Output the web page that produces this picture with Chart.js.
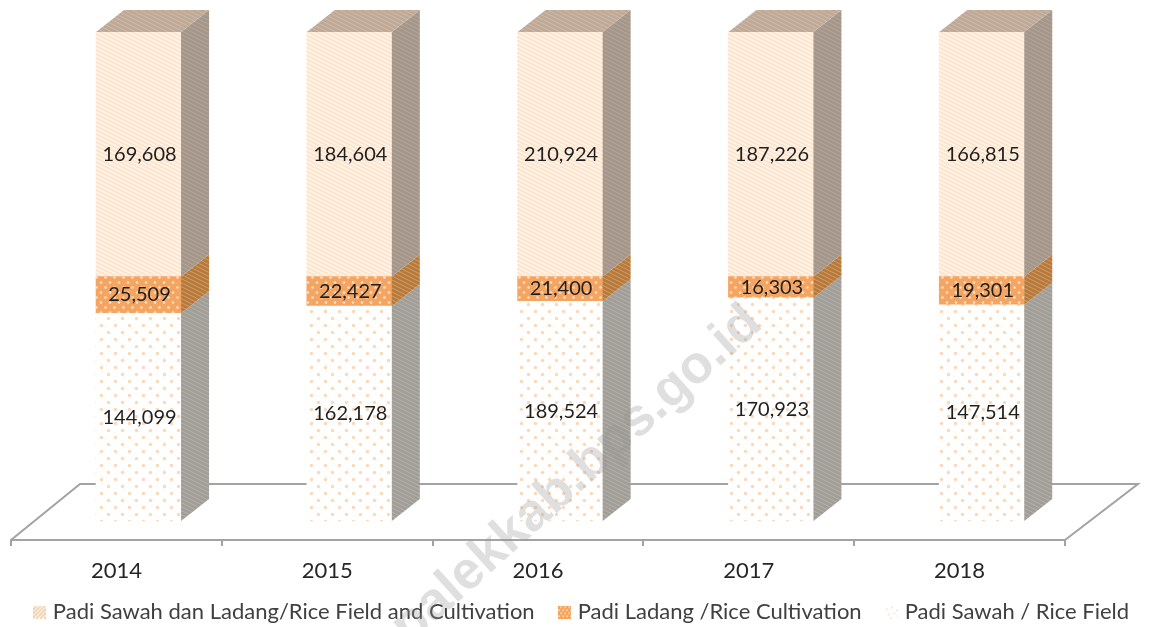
<!DOCTYPE html>
<html><head><meta charset="utf-8">
<style>html,body{margin:0;padding:0;background:#fff}canvas{display:block}</style>
<script src="https://cdn.jsdelivr.net/npm/chart.js@4"></script>
</head><body><canvas id="c" width="1149" height="627"></canvas>
<script>
const years = ['2014','2015','2016','2017','2018'];
const padiSawah = [144099,162178,189524,170923,147514];
const padiLadang = [25509,22427,21400,16303,19301];
const padiSawahLadang = [169608,184604,210924,187226,166815];
const seriesNames = ['Padi Sawah / Rice Field','Padi Ladang /Rice Cultivation','Padi Sawah dan Ladang/Rice Field and Cultivation'];
const rawSeries = [padiSawah,padiLadang,padiSawahLadang];
const totals = years.map((_,i)=>rawSeries.reduce((s,a)=>s+a[i],0));
const FONT='Lato, Carlito, sans-serif';
const DEPTH_X=28, DEPTH_Y=22;

function tile(w,h,fn){const c=document.createElement('canvas');c.width=w;c.height=h;fn(c.getContext('2d'),w,h);return c;}
function stripeTile(bg,fg,lw){return tile(8,4,(g,w,h)=>{g.fillStyle=bg;g.fillRect(0,0,w,h);g.strokeStyle=fg;g.lineWidth=lw;
  for(const dy of [-4,0,4]){g.beginPath();g.moveTo(-8,dy-4);g.lineTo(16,dy+8);g.stroke();}});}
function dotTile(w,h,bg,fg,r,pts){return tile(w,h,(g)=>{g.fillStyle=bg;g.fillRect(0,0,w,h);g.fillStyle=fg;
  pts.forEach(p=>{g.beginPath();g.arc(p[0],p[1],r,0,7);g.fill();});});}
const ctx0=document.getElementById('c').getContext('2d');
const P=t=>ctx0.createPattern(t,'repeat');
const fronts=[
  P(dotTile(14,14,'#ffffff','#fbd8b8',1.7,[[3.5,3.5],[10.5,10.5]])),
  P(dotTile(9,10,'#f5a562','#fde0c2',1.3,[[2,2.5],[6.5,7.5]])),
  P(stripeTile('#fde4cb','#fff8f0',1.3))
];
const sides=[
  P(stripeTile('#a09c96','#b4b1ac',1.1)),
  P(stripeTile('#b6793c','#cf9a62',1.1)),
  P(stripeTile('#a4968a','#b3a698',1.1))
];
const topFace=P(stripeTile('#bfa996','#cdbbab',1.1));

function legendIcon(kind){return tile(13,13,(g,w,h)=>{
  if(kind===2){g.fillStyle='#fff';g.fillRect(0,0,w,h);g.strokeStyle='#f0c9a2';g.lineWidth=1.6;
    for(let i=-13;i<26;i+=4){g.beginPath();g.moveTo(i,13);g.lineTo(i+13,0);g.stroke();}}
  else if(kind===1){g.fillStyle='#f4a25c';g.fillRect(0,0,w,h);g.fillStyle='#fde0c2';
    for(let y=1,r=0;y<13;y+=3,r++)for(let x=(r%2?0:2);x<13;x+=4)g.fillRect(x,y,2,1.4);}
  else{g.fillStyle='#f6dcc6';[[1,3],[6,1],[11,4],[3,8],[8,7],[12,10],[5,12]].forEach(p=>g.fillRect(p[0],p[1],1.6,1.6));}
});}
const icons=[legendIcon(0),legendIcon(1),legendIcon(2)];

const floorPlugin={id:'floor',beforeDatasetsDraw(ch){
  const x=ch.scales.x,g=ch.ctx,b=x.top;
  const backY=b-56;
  g.save();g.strokeStyle='#a3a3a3';g.lineWidth=2;g.beginPath();
  g.moveTo(x.left,b);g.lineTo(x.left+69,backY);g.lineTo(x.right+73,backY);g.lineTo(x.right,b);g.stroke();g.restore();
}};
const facePlugin={id:'faces',afterDatasetsDraw(ch){
  const g=ch.ctx;
  g.save();
  ch.data.datasets.forEach((ds,di)=>{
    ch.getDatasetMeta(di).data.forEach(el=>{
      const p=el.getProps(['x','y','base','width'],true);
      const r=p.x+p.width/2,l=p.x-p.width/2;
      g.fillStyle=sides[di];g.beginPath();
      g.moveTo(r,p.y);g.lineTo(r+DEPTH_X,p.y-DEPTH_Y);g.lineTo(r+DEPTH_X,p.base-DEPTH_Y);g.lineTo(r,p.base);g.closePath();g.fill();
      if(di===ch.data.datasets.length-1){g.fillStyle=topFace;g.beginPath();
        g.moveTo(l,p.y);g.lineTo(l+DEPTH_X,p.y-DEPTH_Y);g.lineTo(r+DEPTH_X,p.y-DEPTH_Y);g.lineTo(r,p.y);g.closePath();g.fill();}
    });
  });
  g.font='20px '+FONT;g.fillStyle='#1f1f1f';g.textAlign='center';g.textBaseline='middle';
  ch.data.datasets.forEach((ds,di)=>{
    ch.getDatasetMeta(di).data.forEach((el,i)=>{
      const p=el.getProps(['x','y','base'],true);
      g.fillText(rawSeries[di][i].toLocaleString('en-US'),p.x+1,(p.y+p.base)/2);
    });
  });
  g.restore();
}};
const watermarkPlugin={id:'watermark',afterDraw(ch){
  const g=ch.ctx;g.save();g.translate(752,313);g.rotate(-42*Math.PI/180);
  g.font='bold 53px "Liberation Sans", Arial, sans-serif';g.fillStyle='rgba(150,150,150,0.3)';
  g.textAlign='right';g.textBaseline='alphabetic';g.fillText('palekkab.bps.go.id',0,18);g.restore();
}};
const legendShift={id:'legendShift',afterLayout(ch){
  const l=ch.legend;l.left+=9;l.right+=9;l.top=573;
}};

new Chart(document.getElementById('c'),{
  type:'bar',
  data:{labels:years,datasets:rawSeries.map((a,i)=>({
    label:seriesNames[i],
    data:a.map((v,j)=>v/totals[j]*100),
    backgroundColor:fronts[i],borderWidth:0,
    xAxisID:'x2',yAxisID:'y',barThickness:85,clip:false
  }))},
  options:{
    responsive:false,animation:false,devicePixelRatio:1,
    layout:{padding:{top:32,left:0,right:0,bottom:-23}},
    plugins:{
      title:{display:false},tooltip:{enabled:false},
      legend:{display:true,position:'bottom',
        labels:{font:{family:FONT,size:22},color:'#404040',boxWidth:4,boxHeight:13,usePointStyle:true,padding:28,
          generateLabels(ch){return ch.data.datasets.map((d,i)=>({text:d.label,pointStyle:icons[i],datasetIndex:i,fontColor:'#404040',lineWidth:0,strokeStyle:'transparent',fillStyle:'transparent'})).reverse();}
        }
      }
    },
    scales:{
      x:{type:'category',position:'bottom',offset:true,
        grid:{offset:true,drawOnChartArea:false,drawTicks:true,tickLength:6,color:'#a3a3a3',lineWidth:2},
        border:{display:true,color:'#a3a3a3',width:2},
        ticks:{maxRotation:0,color:'#262626',font:{family:FONT,size:22},padding:12},
        afterFit(s){s.height=50;}
      },
      x2:{type:'linear',display:false,offset:false,stacked:true,min:2013.395,max:2018.395,grid:{offset:false}},
      y:{type:'linear',position:'left',stacked:true,min:-3.885,max:100,
        grid:{display:false},border:{display:false},ticks:{display:false},
        afterFit(s){s.width=11;}
      },
      yRight:{type:'linear',position:'right',grid:{display:false},border:{display:false},ticks:{display:false},
        afterFit(s){s.width=84;}
      }
    }
  },
  plugins:[floorPlugin,facePlugin,watermarkPlugin,legendShift]
});
</script></body></html>
